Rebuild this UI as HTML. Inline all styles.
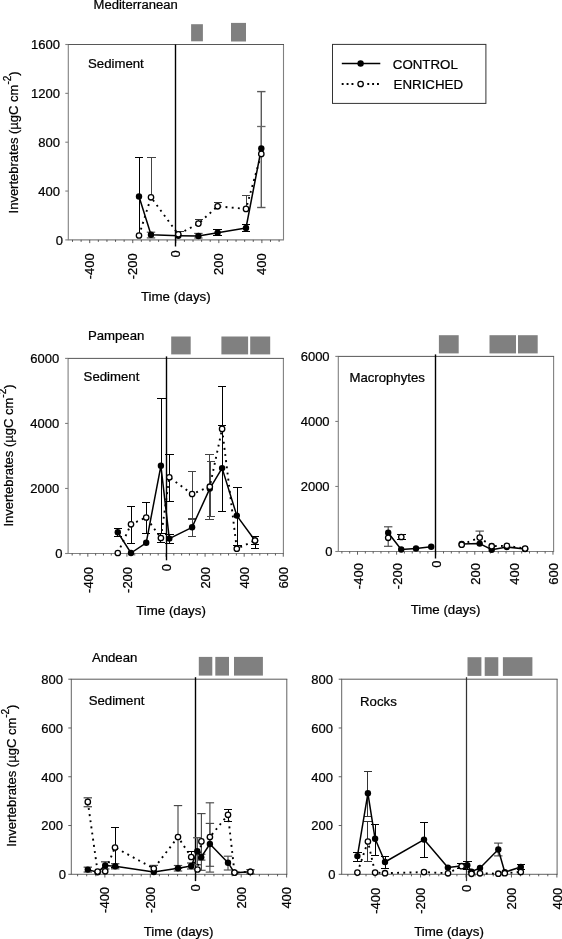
<!DOCTYPE html>
<html><head><meta charset="utf-8"><title>Invertebrates</title>
<style>
html,body{margin:0;padding:0;background:#fff;}
svg{display:block;filter:grayscale(1);}
text{font-family:"Liberation Sans",sans-serif;fill:#000;stroke:#000;stroke-width:0.24px;}
</style></head>
<body>
<svg width="562" height="939" viewBox="0 0 562 939">
<rect width="562" height="939" fill="#fff"/>
<rect x="191.1" y="24.2" width="11.8" height="17.1" fill="#808080"/>
<rect x="231" y="22.9" width="15" height="18.6" fill="#808080"/>
<line x1="68.3" y1="44.5" x2="68.3" y2="239.9" stroke="#808080" stroke-width="1.1" />
<line x1="283.5" y1="44.5" x2="283.5" y2="239.9" stroke="#808080" stroke-width="1.1" />
<line x1="67.8" y1="239.9" x2="284" y2="239.9" stroke="#808080" stroke-width="1.1" />
<line x1="67.8" y1="44.5" x2="284" y2="44.5" stroke="#444" stroke-width="0.9" />
<line x1="65.3" y1="239.9" x2="68.3" y2="239.9" stroke="#808080" stroke-width="1.1" />
<text x="63" y="244.75" font-size="13" text-anchor="end" >0</text>
<line x1="65.3" y1="191.05" x2="68.3" y2="191.05" stroke="#808080" stroke-width="1.1" />
<text x="60" y="195.9" font-size="13" text-anchor="end" >400</text>
<line x1="65.3" y1="142.2" x2="68.3" y2="142.2" stroke="#808080" stroke-width="1.1" />
<text x="60" y="147.05" font-size="13" text-anchor="end" >800</text>
<line x1="65.3" y1="93.35" x2="68.3" y2="93.35" stroke="#808080" stroke-width="1.1" />
<text x="60" y="98.2" font-size="13" text-anchor="end" >1200</text>
<line x1="65.3" y1="44.5" x2="68.3" y2="44.5" stroke="#808080" stroke-width="1.1" />
<text x="60" y="49.35" font-size="13" text-anchor="end" >1600</text>
<line x1="72.5" y1="239.9" x2="72.5" y2="241.9" stroke="#333" stroke-width="0.8" />
<line x1="81.11" y1="239.9" x2="81.11" y2="241.9" stroke="#333" stroke-width="0.8" />
<line x1="89.72" y1="239.9" x2="89.72" y2="243.1" stroke="#333" stroke-width="0.8" />
<line x1="98.33" y1="239.9" x2="98.33" y2="241.9" stroke="#333" stroke-width="0.8" />
<line x1="106.94" y1="239.9" x2="106.94" y2="241.9" stroke="#333" stroke-width="0.8" />
<line x1="115.54" y1="239.9" x2="115.54" y2="241.9" stroke="#333" stroke-width="0.8" />
<line x1="124.15" y1="239.9" x2="124.15" y2="241.9" stroke="#333" stroke-width="0.8" />
<line x1="132.76" y1="239.9" x2="132.76" y2="243.1" stroke="#333" stroke-width="0.8" />
<line x1="141.37" y1="239.9" x2="141.37" y2="241.9" stroke="#333" stroke-width="0.8" />
<line x1="149.98" y1="239.9" x2="149.98" y2="241.9" stroke="#333" stroke-width="0.8" />
<line x1="158.58" y1="239.9" x2="158.58" y2="241.9" stroke="#333" stroke-width="0.8" />
<line x1="167.19" y1="239.9" x2="167.19" y2="241.9" stroke="#333" stroke-width="0.8" />
<line x1="175.8" y1="239.9" x2="175.8" y2="243.1" stroke="#333" stroke-width="0.8" />
<line x1="184.41" y1="239.9" x2="184.41" y2="241.9" stroke="#333" stroke-width="0.8" />
<line x1="193.02" y1="239.9" x2="193.02" y2="241.9" stroke="#333" stroke-width="0.8" />
<line x1="201.62" y1="239.9" x2="201.62" y2="241.9" stroke="#333" stroke-width="0.8" />
<line x1="210.23" y1="239.9" x2="210.23" y2="241.9" stroke="#333" stroke-width="0.8" />
<line x1="218.84" y1="239.9" x2="218.84" y2="243.1" stroke="#333" stroke-width="0.8" />
<line x1="227.45" y1="239.9" x2="227.45" y2="241.9" stroke="#333" stroke-width="0.8" />
<line x1="236.06" y1="239.9" x2="236.06" y2="241.9" stroke="#333" stroke-width="0.8" />
<line x1="244.66" y1="239.9" x2="244.66" y2="241.9" stroke="#333" stroke-width="0.8" />
<line x1="253.27" y1="239.9" x2="253.27" y2="241.9" stroke="#333" stroke-width="0.8" />
<line x1="261.88" y1="239.9" x2="261.88" y2="243.1" stroke="#333" stroke-width="0.8" />
<line x1="270.49" y1="239.9" x2="270.49" y2="241.9" stroke="#333" stroke-width="0.8" />
<line x1="279.1" y1="239.9" x2="279.1" y2="241.9" stroke="#333" stroke-width="0.8" />
<text x="94.32" y="253.3" font-size="13" text-anchor="end" transform="rotate(-90 94.32 253.3)" >-400</text>
<text x="137.36" y="253.3" font-size="13" text-anchor="end" transform="rotate(-90 137.36 253.3)" >-200</text>
<text x="180.4" y="250.3" font-size="13" text-anchor="end" transform="rotate(-90 180.4 250.3)" >0</text>
<text x="223.44" y="253.3" font-size="13" text-anchor="end" transform="rotate(-90 223.44 253.3)" >200</text>
<text x="266.48" y="253.3" font-size="13" text-anchor="end" transform="rotate(-90 266.48 253.3)" >400</text>
<line x1="175.5" y1="44.5" x2="175.5" y2="246.5" stroke="#000" stroke-width="1.4" />
<text x="93.6" y="9.3" font-size="13.05" text-anchor="start" >Mediterranean</text>
<text x="88" y="67.9" font-size="13.2" text-anchor="start" >Sediment</text>
<text x="175.8" y="300.8" font-size="13.3" text-anchor="middle" >Time (days)</text>
<text x="17.8" y="142.4" font-size="13" text-anchor="middle" transform="rotate(-90 17.8 142.4)" >Invertebrates (µgC cm<tspan font-size="10" dy="-6.9">-2</tspan><tspan dy="6.9">)</tspan></text>
<line x1="139.2" y1="157.5" x2="139.2" y2="235.5" stroke="#000" stroke-width="1.0" shape-rendering="crispEdges"/>
<line x1="135" y1="157.5" x2="143.4" y2="157.5" stroke="#000" stroke-width="1.0" shape-rendering="crispEdges"/>
<line x1="151" y1="232.2" x2="151" y2="237.9" stroke="#4a4a4a" stroke-width="1.15" />
<line x1="146.8" y1="232.2" x2="155.2" y2="232.2" stroke="#4a4a4a" stroke-width="1.15" />
<line x1="146.8" y1="237.9" x2="155.2" y2="237.9" stroke="#4a4a4a" stroke-width="1.15" />
<line x1="198.4" y1="233.4" x2="198.4" y2="238" stroke="#4a4a4a" stroke-width="1.15" />
<line x1="194.2" y1="233.4" x2="202.6" y2="233.4" stroke="#4a4a4a" stroke-width="1.15" />
<line x1="194.2" y1="238" x2="202.6" y2="238" stroke="#4a4a4a" stroke-width="1.15" />
<line x1="217.6" y1="229.9" x2="217.6" y2="235.8" stroke="#000" stroke-width="1.0" shape-rendering="crispEdges"/>
<line x1="213.4" y1="229.9" x2="221.8" y2="229.9" stroke="#000" stroke-width="1.0" shape-rendering="crispEdges"/>
<line x1="213.4" y1="235.8" x2="221.8" y2="235.8" stroke="#000" stroke-width="1.0" shape-rendering="crispEdges"/>
<line x1="246" y1="224.8" x2="246" y2="231.9" stroke="#000" stroke-width="1.0" shape-rendering="crispEdges"/>
<line x1="241.8" y1="224.8" x2="250.2" y2="224.8" stroke="#000" stroke-width="1.0" shape-rendering="crispEdges"/>
<line x1="241.8" y1="231.9" x2="250.2" y2="231.9" stroke="#000" stroke-width="1.0" shape-rendering="crispEdges"/>
<line x1="261.3" y1="91.6" x2="261.3" y2="207.5" stroke="#5a5a5a" stroke-width="1.4" />
<line x1="257.1" y1="91.6" x2="265.5" y2="91.6" stroke="#5a5a5a" stroke-width="1.4" />
<line x1="257.1" y1="207.5" x2="265.5" y2="207.5" stroke="#5a5a5a" stroke-width="1.4" />
<line x1="151.4" y1="157.5" x2="151.4" y2="197.3" stroke="#444" stroke-width="1.0" shape-rendering="crispEdges"/>
<line x1="147.2" y1="157.5" x2="155.6" y2="157.5" stroke="#444" stroke-width="1.0" shape-rendering="crispEdges"/>
<line x1="180.2" y1="231.8" x2="180.2" y2="234.3" stroke="#333" stroke-width="1.0" shape-rendering="crispEdges"/>
<line x1="176" y1="231.8" x2="184.4" y2="231.8" stroke="#333" stroke-width="1.0" shape-rendering="crispEdges"/>
<line x1="198.9" y1="219" x2="198.9" y2="223.6" stroke="#333" stroke-width="1.0" shape-rendering="crispEdges"/>
<line x1="194.7" y1="219" x2="203.1" y2="219" stroke="#333" stroke-width="1.0" shape-rendering="crispEdges"/>
<line x1="218" y1="202.7" x2="218" y2="206.3" stroke="#333" stroke-width="1.0" shape-rendering="crispEdges"/>
<line x1="213.8" y1="202.7" x2="222.2" y2="202.7" stroke="#333" stroke-width="1.0" shape-rendering="crispEdges"/>
<line x1="246" y1="195.5" x2="246" y2="208.9" stroke="#444" stroke-width="1.0" shape-rendering="crispEdges"/>
<line x1="241.8" y1="195.5" x2="250.2" y2="195.5" stroke="#444" stroke-width="1.0" shape-rendering="crispEdges"/>
<line x1="261.3" y1="126.5" x2="261.3" y2="153.9" stroke="#666" stroke-width="1.3" />
<line x1="257.1" y1="126.5" x2="265.5" y2="126.5" stroke="#666" stroke-width="1.3" />
<polyline points="139,196.5 151,234.7 178.3,235.7 198.4,236 217.6,232.7 246,228 261.3,148.5" fill="none" stroke="#000" stroke-width="1.5" stroke-linejoin="round"/>
<circle cx="139" cy="196.5" r="3.2" fill="#000"/>
<circle cx="151" cy="234.7" r="3.2" fill="#000"/>
<circle cx="178.3" cy="235.7" r="3.2" fill="#000"/>
<circle cx="198.4" cy="236" r="3.2" fill="#000"/>
<circle cx="217.6" cy="232.7" r="3.2" fill="#000"/>
<circle cx="246" cy="228" r="3.2" fill="#000"/>
<circle cx="261.3" cy="148.5" r="3.2" fill="#000"/>
<polyline points="139,235.5 151,197.3 178.3,234.3 198.4,223.6 217.6,206.3 246,208.9 261.3,153.9" fill="none" stroke="#000" stroke-width="1.9" stroke-linejoin="round" stroke-dasharray="1.9 4.3"/>
<circle cx="139" cy="235.5" r="2.7" fill="#fff" stroke="#000" stroke-width="1.3"/>
<circle cx="151" cy="197.3" r="2.7" fill="#fff" stroke="#000" stroke-width="1.3"/>
<circle cx="178.3" cy="234.3" r="2.7" fill="#fff" stroke="#000" stroke-width="1.3"/>
<circle cx="198.4" cy="223.6" r="2.7" fill="#fff" stroke="#000" stroke-width="1.3"/>
<circle cx="217.6" cy="206.3" r="2.7" fill="#fff" stroke="#000" stroke-width="1.3"/>
<circle cx="246" cy="208.9" r="2.7" fill="#fff" stroke="#000" stroke-width="1.3"/>
<circle cx="261.3" cy="153.9" r="2.7" fill="#fff" stroke="#000" stroke-width="1.3"/>
<rect x="171.2" y="336.5" width="19.5" height="17.9" fill="#808080"/>
<rect x="221.4" y="336.5" width="26.7" height="17.9" fill="#808080"/>
<rect x="250.2" y="336.5" width="20" height="17.9" fill="#808080"/>
<line x1="68.1" y1="358.4" x2="68.1" y2="553.5" stroke="#808080" stroke-width="1.1" />
<line x1="283.4" y1="358.4" x2="283.4" y2="553.5" stroke="#808080" stroke-width="1.1" />
<line x1="67.6" y1="553.5" x2="283.9" y2="553.5" stroke="#808080" stroke-width="1.1" />
<line x1="67.6" y1="358.4" x2="283.9" y2="358.4" stroke="#444" stroke-width="0.9" />
<line x1="65.1" y1="553.5" x2="68.1" y2="553.5" stroke="#808080" stroke-width="1.1" />
<text x="62.5" y="558.35" font-size="13" text-anchor="end" >0</text>
<line x1="65.1" y1="488.47" x2="68.1" y2="488.47" stroke="#808080" stroke-width="1.1" />
<text x="59.2" y="493.32" font-size="13" text-anchor="end" >2000</text>
<line x1="65.1" y1="423.43" x2="68.1" y2="423.43" stroke="#808080" stroke-width="1.1" />
<text x="59.2" y="428.28" font-size="13" text-anchor="end" >4000</text>
<line x1="65.1" y1="358.4" x2="68.1" y2="358.4" stroke="#808080" stroke-width="1.1" />
<text x="59.2" y="363.25" font-size="13" text-anchor="end" >6000</text>
<line x1="72.18" y1="553.5" x2="72.18" y2="555.5" stroke="#333" stroke-width="0.8" />
<line x1="80" y1="553.5" x2="80" y2="555.5" stroke="#333" stroke-width="0.8" />
<line x1="87.82" y1="553.5" x2="87.82" y2="556.7" stroke="#333" stroke-width="0.8" />
<line x1="95.64" y1="553.5" x2="95.64" y2="555.5" stroke="#333" stroke-width="0.8" />
<line x1="103.46" y1="553.5" x2="103.46" y2="555.5" stroke="#333" stroke-width="0.8" />
<line x1="111.27" y1="553.5" x2="111.27" y2="555.5" stroke="#333" stroke-width="0.8" />
<line x1="119.09" y1="553.5" x2="119.09" y2="555.5" stroke="#333" stroke-width="0.8" />
<line x1="126.91" y1="553.5" x2="126.91" y2="556.7" stroke="#333" stroke-width="0.8" />
<line x1="134.73" y1="553.5" x2="134.73" y2="555.5" stroke="#333" stroke-width="0.8" />
<line x1="142.55" y1="553.5" x2="142.55" y2="555.5" stroke="#333" stroke-width="0.8" />
<line x1="150.36" y1="553.5" x2="150.36" y2="555.5" stroke="#333" stroke-width="0.8" />
<line x1="158.18" y1="553.5" x2="158.18" y2="555.5" stroke="#333" stroke-width="0.8" />
<line x1="166" y1="553.5" x2="166" y2="556.7" stroke="#333" stroke-width="0.8" />
<line x1="173.82" y1="553.5" x2="173.82" y2="555.5" stroke="#333" stroke-width="0.8" />
<line x1="181.64" y1="553.5" x2="181.64" y2="555.5" stroke="#333" stroke-width="0.8" />
<line x1="189.45" y1="553.5" x2="189.45" y2="555.5" stroke="#333" stroke-width="0.8" />
<line x1="197.27" y1="553.5" x2="197.27" y2="555.5" stroke="#333" stroke-width="0.8" />
<line x1="205.09" y1="553.5" x2="205.09" y2="556.7" stroke="#333" stroke-width="0.8" />
<line x1="212.91" y1="553.5" x2="212.91" y2="555.5" stroke="#333" stroke-width="0.8" />
<line x1="220.73" y1="553.5" x2="220.73" y2="555.5" stroke="#333" stroke-width="0.8" />
<line x1="228.54" y1="553.5" x2="228.54" y2="555.5" stroke="#333" stroke-width="0.8" />
<line x1="236.36" y1="553.5" x2="236.36" y2="555.5" stroke="#333" stroke-width="0.8" />
<line x1="244.18" y1="553.5" x2="244.18" y2="556.7" stroke="#333" stroke-width="0.8" />
<line x1="252" y1="553.5" x2="252" y2="555.5" stroke="#333" stroke-width="0.8" />
<line x1="259.82" y1="553.5" x2="259.82" y2="555.5" stroke="#333" stroke-width="0.8" />
<line x1="267.63" y1="553.5" x2="267.63" y2="555.5" stroke="#333" stroke-width="0.8" />
<line x1="275.45" y1="553.5" x2="275.45" y2="555.5" stroke="#333" stroke-width="0.8" />
<line x1="283.27" y1="553.5" x2="283.27" y2="556.7" stroke="#333" stroke-width="0.8" />
<text x="92.92" y="566.9" font-size="13" text-anchor="end" transform="rotate(-90 92.92 566.9)" >-400</text>
<text x="132.01" y="566.9" font-size="13" text-anchor="end" transform="rotate(-90 132.01 566.9)" >-200</text>
<text x="171.1" y="563.9" font-size="13" text-anchor="end" transform="rotate(-90 171.1 563.9)" >0</text>
<text x="210.19" y="566.9" font-size="13" text-anchor="end" transform="rotate(-90 210.19 566.9)" >200</text>
<text x="249.28" y="566.9" font-size="13" text-anchor="end" transform="rotate(-90 249.28 566.9)" >400</text>
<text x="288.37" y="566.9" font-size="13" text-anchor="end" transform="rotate(-90 288.37 566.9)" >600</text>
<line x1="166.5" y1="356.4" x2="166.5" y2="560.3" stroke="#000" stroke-width="1.4" />
<text x="87.9" y="340.1" font-size="13.2" text-anchor="start" >Pampean</text>
<text x="83.6" y="380.8" font-size="13.2" text-anchor="start" >Sediment</text>
<text x="171" y="615" font-size="13.3" text-anchor="middle" >Time (days)</text>
<text x="12.5" y="455.5" font-size="13" text-anchor="middle" transform="rotate(-90 12.5 455.5)" >Invertebrates (µgC cm<tspan font-size="10" dy="-6.9">-2</tspan><tspan dy="6.9">)</tspan></text>
<line x1="117.8" y1="528.5" x2="117.8" y2="536.1" stroke="#000" stroke-width="1.0" shape-rendering="crispEdges"/>
<line x1="113.6" y1="528.5" x2="122" y2="528.5" stroke="#000" stroke-width="1.0" shape-rendering="crispEdges"/>
<line x1="113.6" y1="536.1" x2="122" y2="536.1" stroke="#000" stroke-width="1.0" shape-rendering="crispEdges"/>
<line x1="161.5" y1="398.8" x2="161.5" y2="533" stroke="#000" stroke-width="1.0" shape-rendering="crispEdges"/>
<line x1="157.3" y1="398.8" x2="165.7" y2="398.8" stroke="#000" stroke-width="1.0" shape-rendering="crispEdges"/>
<line x1="157.3" y1="533" x2="165.7" y2="533" stroke="#000" stroke-width="1.0" shape-rendering="crispEdges"/>
<line x1="169.3" y1="534.2" x2="169.3" y2="543.8" stroke="#000" stroke-width="1.0" shape-rendering="crispEdges"/>
<line x1="165.1" y1="534.2" x2="173.5" y2="534.2" stroke="#000" stroke-width="1.0" shape-rendering="crispEdges"/>
<line x1="165.1" y1="543.8" x2="173.5" y2="543.8" stroke="#000" stroke-width="1.0" shape-rendering="crispEdges"/>
<line x1="192.1" y1="518" x2="192.1" y2="536" stroke="#444" stroke-width="1.0" shape-rendering="crispEdges"/>
<line x1="187.9" y1="518" x2="196.3" y2="518" stroke="#444" stroke-width="1.0" shape-rendering="crispEdges"/>
<line x1="187.9" y1="536" x2="196.3" y2="536" stroke="#444" stroke-width="1.0" shape-rendering="crispEdges"/>
<line x1="210.9" y1="461.3" x2="210.9" y2="516.1" stroke="#444" stroke-width="1.0" shape-rendering="crispEdges"/>
<line x1="206.7" y1="461.3" x2="215.1" y2="461.3" stroke="#444" stroke-width="1.0" shape-rendering="crispEdges"/>
<line x1="206.7" y1="516.1" x2="215.1" y2="516.1" stroke="#444" stroke-width="1.0" shape-rendering="crispEdges"/>
<line x1="222.1" y1="425.6" x2="222.1" y2="511.5" stroke="#000" stroke-width="1.0" shape-rendering="crispEdges"/>
<line x1="217.9" y1="425.6" x2="226.3" y2="425.6" stroke="#000" stroke-width="1.0" shape-rendering="crispEdges"/>
<line x1="217.9" y1="511.5" x2="226.3" y2="511.5" stroke="#000" stroke-width="1.0" shape-rendering="crispEdges"/>
<line x1="237.4" y1="487.6" x2="237.4" y2="545.4" stroke="#000" stroke-width="1.0" shape-rendering="crispEdges"/>
<line x1="233.2" y1="487.6" x2="241.6" y2="487.6" stroke="#000" stroke-width="1.0" shape-rendering="crispEdges"/>
<line x1="233.2" y1="545.4" x2="241.6" y2="545.4" stroke="#000" stroke-width="1.0" shape-rendering="crispEdges"/>
<line x1="255" y1="536.6" x2="255" y2="544.8" stroke="#000" stroke-width="1.0" shape-rendering="crispEdges"/>
<line x1="250.8" y1="536.6" x2="259.2" y2="536.6" stroke="#000" stroke-width="1.0" shape-rendering="crispEdges"/>
<line x1="250.8" y1="544.8" x2="259.2" y2="544.8" stroke="#000" stroke-width="1.0" shape-rendering="crispEdges"/>
<line x1="131" y1="506.4" x2="131" y2="543.4" stroke="#000" stroke-width="1.0" shape-rendering="crispEdges"/>
<line x1="126.8" y1="506.4" x2="135.2" y2="506.4" stroke="#000" stroke-width="1.0" shape-rendering="crispEdges"/>
<line x1="126.8" y1="543.4" x2="135.2" y2="543.4" stroke="#000" stroke-width="1.0" shape-rendering="crispEdges"/>
<line x1="146.2" y1="502.6" x2="146.2" y2="533.3" stroke="#000" stroke-width="1.0" shape-rendering="crispEdges"/>
<line x1="142" y1="502.6" x2="150.4" y2="502.6" stroke="#000" stroke-width="1.0" shape-rendering="crispEdges"/>
<line x1="142" y1="533.3" x2="150.4" y2="533.3" stroke="#000" stroke-width="1.0" shape-rendering="crispEdges"/>
<line x1="160.9" y1="533.3" x2="160.9" y2="542.8" stroke="#000" stroke-width="1.0" shape-rendering="crispEdges"/>
<line x1="156.7" y1="533.3" x2="165.1" y2="533.3" stroke="#000" stroke-width="1.0" shape-rendering="crispEdges"/>
<line x1="156.7" y1="542.8" x2="165.1" y2="542.8" stroke="#000" stroke-width="1.0" shape-rendering="crispEdges"/>
<line x1="169.3" y1="454.3" x2="169.3" y2="501.1" stroke="#000" stroke-width="1.0" shape-rendering="crispEdges"/>
<line x1="165.1" y1="454.3" x2="173.5" y2="454.3" stroke="#000" stroke-width="1.0" shape-rendering="crispEdges"/>
<line x1="165.1" y1="501.1" x2="173.5" y2="501.1" stroke="#000" stroke-width="1.0" shape-rendering="crispEdges"/>
<line x1="192.1" y1="471.3" x2="192.1" y2="519.2" stroke="#444" stroke-width="1.0" shape-rendering="crispEdges"/>
<line x1="187.9" y1="471.3" x2="196.3" y2="471.3" stroke="#444" stroke-width="1.0" shape-rendering="crispEdges"/>
<line x1="187.9" y1="519.2" x2="196.3" y2="519.2" stroke="#444" stroke-width="1.0" shape-rendering="crispEdges"/>
<line x1="209.6" y1="454.4" x2="209.6" y2="519.6" stroke="#444" stroke-width="1.0" shape-rendering="crispEdges"/>
<line x1="205.4" y1="454.4" x2="213.8" y2="454.4" stroke="#444" stroke-width="1.0" shape-rendering="crispEdges"/>
<line x1="205.4" y1="519.6" x2="213.8" y2="519.6" stroke="#444" stroke-width="1.0" shape-rendering="crispEdges"/>
<line x1="222.1" y1="386.8" x2="222.1" y2="428.9" stroke="#000" stroke-width="1.0" shape-rendering="crispEdges"/>
<line x1="217.9" y1="386.8" x2="226.3" y2="386.8" stroke="#000" stroke-width="1.0" shape-rendering="crispEdges"/>
<line x1="255" y1="540.5" x2="255" y2="548.7" stroke="#000" stroke-width="1.0" shape-rendering="crispEdges"/>
<line x1="250.8" y1="548.7" x2="259.2" y2="548.7" stroke="#000" stroke-width="1.0" shape-rendering="crispEdges"/>
<polyline points="117.8,532.3 131,553 146.2,542.8 160.9,465.8 169.3,538.6 192.1,527.3 209.8,488.6 222.1,468.1 236.8,515.6 255,540.5" fill="none" stroke="#000" stroke-width="1.5" stroke-linejoin="round"/>
<circle cx="117.8" cy="532.3" r="3.2" fill="#000"/>
<circle cx="131" cy="553" r="3.2" fill="#000"/>
<circle cx="146.2" cy="542.8" r="3.2" fill="#000"/>
<circle cx="160.9" cy="465.8" r="3.2" fill="#000"/>
<circle cx="169.3" cy="538.6" r="3.2" fill="#000"/>
<circle cx="192.1" cy="527.3" r="3.2" fill="#000"/>
<circle cx="209.8" cy="488.6" r="3.2" fill="#000"/>
<circle cx="222.1" cy="468.1" r="3.2" fill="#000"/>
<circle cx="236.8" cy="515.6" r="3.2" fill="#000"/>
<circle cx="255" cy="540.5" r="3.2" fill="#000"/>
<polyline points="117.8,553 131,524.3 146.2,517.5 160.9,538 169.3,477.3 192.1,494 209.8,486.7 222.1,428.9 236.8,548.7 255,540.5" fill="none" stroke="#000" stroke-width="1.9" stroke-linejoin="round" stroke-dasharray="1.9 4.3"/>
<circle cx="117.8" cy="553" r="2.7" fill="#fff" stroke="#000" stroke-width="1.3"/>
<circle cx="131" cy="524.3" r="2.7" fill="#fff" stroke="#000" stroke-width="1.3"/>
<circle cx="146.2" cy="517.5" r="2.7" fill="#fff" stroke="#000" stroke-width="1.3"/>
<circle cx="160.9" cy="538" r="2.7" fill="#fff" stroke="#000" stroke-width="1.3"/>
<circle cx="169.3" cy="477.3" r="2.7" fill="#fff" stroke="#000" stroke-width="1.3"/>
<circle cx="192.1" cy="494" r="2.7" fill="#fff" stroke="#000" stroke-width="1.3"/>
<circle cx="209.8" cy="486.7" r="2.7" fill="#fff" stroke="#000" stroke-width="1.3"/>
<circle cx="222.1" cy="428.9" r="2.7" fill="#fff" stroke="#000" stroke-width="1.3"/>
<circle cx="236.8" cy="548.7" r="2.7" fill="#fff" stroke="#000" stroke-width="1.3"/>
<circle cx="255" cy="540.5" r="2.7" fill="#fff" stroke="#000" stroke-width="1.3"/>
<rect x="438.9" y="335.2" width="19.8" height="18.2" fill="#808080"/>
<rect x="489.5" y="335.2" width="26.5" height="18.2" fill="#808080"/>
<rect x="518" y="335.2" width="19.7" height="18.2" fill="#808080"/>
<line x1="338.3" y1="356.4" x2="338.3" y2="551.5" stroke="#808080" stroke-width="1.1" />
<line x1="553.6" y1="356.4" x2="553.6" y2="551.5" stroke="#808080" stroke-width="1.1" />
<line x1="337.8" y1="551.5" x2="554.1" y2="551.5" stroke="#808080" stroke-width="1.1" />
<line x1="337.8" y1="356.4" x2="554.1" y2="356.4" stroke="#444" stroke-width="0.9" />
<line x1="335.3" y1="551.5" x2="338.3" y2="551.5" stroke="#808080" stroke-width="1.1" />
<text x="332.6" y="556.35" font-size="13" text-anchor="end" >0</text>
<line x1="335.3" y1="486.47" x2="338.3" y2="486.47" stroke="#808080" stroke-width="1.1" />
<text x="329.6" y="491.32" font-size="13" text-anchor="end" >2000</text>
<line x1="335.3" y1="421.43" x2="338.3" y2="421.43" stroke="#808080" stroke-width="1.1" />
<text x="329.6" y="426.28" font-size="13" text-anchor="end" >4000</text>
<line x1="335.3" y1="356.4" x2="338.3" y2="356.4" stroke="#808080" stroke-width="1.1" />
<text x="329.6" y="361.25" font-size="13" text-anchor="end" >6000</text>
<line x1="341.88" y1="551.5" x2="341.88" y2="553.5" stroke="#333" stroke-width="0.8" />
<line x1="349.7" y1="551.5" x2="349.7" y2="553.5" stroke="#333" stroke-width="0.8" />
<line x1="357.52" y1="551.5" x2="357.52" y2="554.7" stroke="#333" stroke-width="0.8" />
<line x1="365.34" y1="551.5" x2="365.34" y2="553.5" stroke="#333" stroke-width="0.8" />
<line x1="373.16" y1="551.5" x2="373.16" y2="553.5" stroke="#333" stroke-width="0.8" />
<line x1="380.97" y1="551.5" x2="380.97" y2="553.5" stroke="#333" stroke-width="0.8" />
<line x1="388.79" y1="551.5" x2="388.79" y2="553.5" stroke="#333" stroke-width="0.8" />
<line x1="396.61" y1="551.5" x2="396.61" y2="554.7" stroke="#333" stroke-width="0.8" />
<line x1="404.43" y1="551.5" x2="404.43" y2="553.5" stroke="#333" stroke-width="0.8" />
<line x1="412.25" y1="551.5" x2="412.25" y2="553.5" stroke="#333" stroke-width="0.8" />
<line x1="420.06" y1="551.5" x2="420.06" y2="553.5" stroke="#333" stroke-width="0.8" />
<line x1="427.88" y1="551.5" x2="427.88" y2="553.5" stroke="#333" stroke-width="0.8" />
<line x1="435.7" y1="551.5" x2="435.7" y2="554.7" stroke="#333" stroke-width="0.8" />
<line x1="443.52" y1="551.5" x2="443.52" y2="553.5" stroke="#333" stroke-width="0.8" />
<line x1="451.34" y1="551.5" x2="451.34" y2="553.5" stroke="#333" stroke-width="0.8" />
<line x1="459.15" y1="551.5" x2="459.15" y2="553.5" stroke="#333" stroke-width="0.8" />
<line x1="466.97" y1="551.5" x2="466.97" y2="553.5" stroke="#333" stroke-width="0.8" />
<line x1="474.79" y1="551.5" x2="474.79" y2="554.7" stroke="#333" stroke-width="0.8" />
<line x1="482.61" y1="551.5" x2="482.61" y2="553.5" stroke="#333" stroke-width="0.8" />
<line x1="490.43" y1="551.5" x2="490.43" y2="553.5" stroke="#333" stroke-width="0.8" />
<line x1="498.24" y1="551.5" x2="498.24" y2="553.5" stroke="#333" stroke-width="0.8" />
<line x1="506.06" y1="551.5" x2="506.06" y2="553.5" stroke="#333" stroke-width="0.8" />
<line x1="513.88" y1="551.5" x2="513.88" y2="554.7" stroke="#333" stroke-width="0.8" />
<line x1="521.7" y1="551.5" x2="521.7" y2="553.5" stroke="#333" stroke-width="0.8" />
<line x1="529.52" y1="551.5" x2="529.52" y2="553.5" stroke="#333" stroke-width="0.8" />
<line x1="537.33" y1="551.5" x2="537.33" y2="553.5" stroke="#333" stroke-width="0.8" />
<line x1="545.15" y1="551.5" x2="545.15" y2="553.5" stroke="#333" stroke-width="0.8" />
<line x1="552.97" y1="551.5" x2="552.97" y2="554.7" stroke="#333" stroke-width="0.8" />
<text x="362.62" y="563.1" font-size="13" text-anchor="end" transform="rotate(-90 362.62 563.1)" >-400</text>
<text x="401.71" y="563.1" font-size="13" text-anchor="end" transform="rotate(-90 401.71 563.1)" >-200</text>
<text x="440.8" y="560.5" font-size="13" text-anchor="end" transform="rotate(-90 440.8 560.5)" >0</text>
<text x="479.89" y="563.1" font-size="13" text-anchor="end" transform="rotate(-90 479.89 563.1)" >200</text>
<text x="518.98" y="563.1" font-size="13" text-anchor="end" transform="rotate(-90 518.98 563.1)" >400</text>
<text x="558.07" y="563.1" font-size="13" text-anchor="end" transform="rotate(-90 558.07 563.1)" >600</text>
<line x1="435.5" y1="354.4" x2="435.5" y2="558.5" stroke="#000" stroke-width="1.4" />
<text x="349.4" y="381.9" font-size="13.2" text-anchor="start" >Macrophytes</text>
<text x="445.5" y="613.5" font-size="13.3" text-anchor="middle" >Time (days)</text>
<line x1="388.2" y1="526.8" x2="388.2" y2="546.3" stroke="#4a4a4a" stroke-width="1.15" />
<line x1="384" y1="526.8" x2="392.4" y2="526.8" stroke="#4a4a4a" stroke-width="1.15" />
<line x1="384" y1="546.3" x2="392.4" y2="546.3" stroke="#4a4a4a" stroke-width="1.15" />
<line x1="401.3" y1="534.9" x2="401.3" y2="539.5" stroke="#000" stroke-width="1.0" shape-rendering="crispEdges"/>
<line x1="397.1" y1="534.9" x2="405.5" y2="534.9" stroke="#000" stroke-width="1.0" shape-rendering="crispEdges"/>
<line x1="397.1" y1="539.5" x2="405.5" y2="539.5" stroke="#000" stroke-width="1.0" shape-rendering="crispEdges"/>
<line x1="479.7" y1="531.1" x2="479.7" y2="537.6" stroke="#555" stroke-width="1.2" />
<line x1="475.5" y1="531.1" x2="483.9" y2="531.1" stroke="#555" stroke-width="1.2" />
<polyline points="388.2,532.8 401.2,549.5 416,548.5 431.2,546.7" fill="none" stroke="#000" stroke-width="1.5" stroke-linejoin="round"/>
<polyline points="461.7,544 479.7,543.6 491.7,549.7 506.9,547 525.1,549" fill="none" stroke="#000" stroke-width="1.5" stroke-linejoin="round"/>
<circle cx="388.2" cy="532.8" r="3.2" fill="#000"/>
<circle cx="401.2" cy="549.5" r="3.2" fill="#000"/>
<circle cx="416" cy="548.5" r="3.2" fill="#000"/>
<circle cx="431.2" cy="546.7" r="3.2" fill="#000"/>
<circle cx="461.7" cy="544" r="3.2" fill="#000"/>
<circle cx="479.7" cy="543.6" r="3.2" fill="#000"/>
<circle cx="491.7" cy="549.7" r="3.2" fill="#000"/>
<circle cx="506.9" cy="547" r="3.2" fill="#000"/>
<circle cx="525.1" cy="549" r="3.2" fill="#000"/>
<polyline points="461.7,544.7 479.7,537.6 491.7,546.2 506.9,545.8 525.1,548.6" fill="none" stroke="#000" stroke-width="1.9" stroke-linejoin="round" stroke-dasharray="1.9 4.3"/>
<circle cx="388.2" cy="537.8" r="2.7" fill="#fff" stroke="#000" stroke-width="1.3"/>
<circle cx="401.3" cy="537" r="2.7" fill="#fff" stroke="#000" stroke-width="1.3"/>
<circle cx="461.7" cy="544.7" r="2.7" fill="#fff" stroke="#000" stroke-width="1.3"/>
<circle cx="479.7" cy="537.6" r="2.7" fill="#fff" stroke="#000" stroke-width="1.3"/>
<circle cx="491.7" cy="546.2" r="2.7" fill="#fff" stroke="#000" stroke-width="1.3"/>
<circle cx="506.9" cy="545.8" r="2.7" fill="#fff" stroke="#000" stroke-width="1.3"/>
<circle cx="525.1" cy="548.6" r="2.7" fill="#fff" stroke="#000" stroke-width="1.3"/>
<rect x="198.8" y="656.9" width="13.5" height="18.7" fill="#808080"/>
<rect x="215.3" y="656.9" width="13.7" height="18.7" fill="#808080"/>
<rect x="234" y="656.9" width="28.9" height="18.7" fill="#808080"/>
<line x1="71.3" y1="679.2" x2="71.3" y2="874.3" stroke="#5a5a5a" stroke-width="0.95" />
<line x1="286.8" y1="679.2" x2="286.8" y2="874.3" stroke="#5a5a5a" stroke-width="0.95" />
<line x1="70.8" y1="874.3" x2="287.3" y2="874.3" stroke="#5a5a5a" stroke-width="0.95" />
<line x1="70.8" y1="679.2" x2="287.3" y2="679.2" stroke="#444" stroke-width="0.9" />
<line x1="68.3" y1="874.3" x2="71.3" y2="874.3" stroke="#5a5a5a" stroke-width="0.95" />
<text x="65.9" y="879.15" font-size="13" text-anchor="end" >0</text>
<line x1="68.3" y1="825.52" x2="71.3" y2="825.52" stroke="#5a5a5a" stroke-width="0.95" />
<text x="62.9" y="830.38" font-size="13" text-anchor="end" >200</text>
<line x1="68.3" y1="776.75" x2="71.3" y2="776.75" stroke="#5a5a5a" stroke-width="0.95" />
<text x="62.9" y="781.6" font-size="13" text-anchor="end" >400</text>
<line x1="68.3" y1="727.98" x2="71.3" y2="727.98" stroke="#5a5a5a" stroke-width="0.95" />
<text x="62.9" y="732.83" font-size="13" text-anchor="end" >600</text>
<line x1="68.3" y1="679.2" x2="71.3" y2="679.2" stroke="#5a5a5a" stroke-width="0.95" />
<text x="62.9" y="684.05" font-size="13" text-anchor="end" >800</text>
<line x1="77.61" y1="874.3" x2="77.61" y2="876.3" stroke="#333" stroke-width="0.8" />
<line x1="86.69" y1="874.3" x2="86.69" y2="876.3" stroke="#333" stroke-width="0.8" />
<line x1="95.78" y1="874.3" x2="95.78" y2="876.3" stroke="#333" stroke-width="0.8" />
<line x1="104.87" y1="874.3" x2="104.87" y2="877.5" stroke="#333" stroke-width="0.8" />
<line x1="113.96" y1="874.3" x2="113.96" y2="876.3" stroke="#333" stroke-width="0.8" />
<line x1="123.05" y1="874.3" x2="123.05" y2="876.3" stroke="#333" stroke-width="0.8" />
<line x1="132.13" y1="874.3" x2="132.13" y2="876.3" stroke="#333" stroke-width="0.8" />
<line x1="141.22" y1="874.3" x2="141.22" y2="876.3" stroke="#333" stroke-width="0.8" />
<line x1="150.31" y1="874.3" x2="150.31" y2="877.5" stroke="#333" stroke-width="0.8" />
<line x1="159.4" y1="874.3" x2="159.4" y2="876.3" stroke="#333" stroke-width="0.8" />
<line x1="168.49" y1="874.3" x2="168.49" y2="876.3" stroke="#333" stroke-width="0.8" />
<line x1="177.57" y1="874.3" x2="177.57" y2="876.3" stroke="#333" stroke-width="0.8" />
<line x1="186.66" y1="874.3" x2="186.66" y2="876.3" stroke="#333" stroke-width="0.8" />
<line x1="195.75" y1="874.3" x2="195.75" y2="877.5" stroke="#333" stroke-width="0.8" />
<line x1="204.84" y1="874.3" x2="204.84" y2="876.3" stroke="#333" stroke-width="0.8" />
<line x1="213.93" y1="874.3" x2="213.93" y2="876.3" stroke="#333" stroke-width="0.8" />
<line x1="223.01" y1="874.3" x2="223.01" y2="876.3" stroke="#333" stroke-width="0.8" />
<line x1="232.1" y1="874.3" x2="232.1" y2="876.3" stroke="#333" stroke-width="0.8" />
<line x1="241.19" y1="874.3" x2="241.19" y2="877.5" stroke="#333" stroke-width="0.8" />
<line x1="250.28" y1="874.3" x2="250.28" y2="876.3" stroke="#333" stroke-width="0.8" />
<line x1="259.37" y1="874.3" x2="259.37" y2="876.3" stroke="#333" stroke-width="0.8" />
<line x1="268.45" y1="874.3" x2="268.45" y2="876.3" stroke="#333" stroke-width="0.8" />
<line x1="277.54" y1="874.3" x2="277.54" y2="876.3" stroke="#333" stroke-width="0.8" />
<line x1="286.63" y1="874.3" x2="286.63" y2="877.5" stroke="#333" stroke-width="0.8" />
<text x="109.47" y="886.9" font-size="13" text-anchor="end" transform="rotate(-90 109.47 886.9)" >-400</text>
<text x="154.91" y="886.9" font-size="13" text-anchor="end" transform="rotate(-90 154.91 886.9)" >-200</text>
<text x="200.35" y="884.2" font-size="13" text-anchor="end" transform="rotate(-90 200.35 884.2)" >0</text>
<text x="245.79" y="886.9" font-size="13" text-anchor="end" transform="rotate(-90 245.79 886.9)" >200</text>
<text x="291.23" y="886.9" font-size="13" text-anchor="end" transform="rotate(-90 291.23 886.9)" >400</text>
<line x1="195.5" y1="677.2" x2="195.5" y2="881.1" stroke="#000" stroke-width="1.4" />
<text x="91.9" y="662" font-size="13.2" text-anchor="start" >Andean</text>
<text x="88.7" y="704.8" font-size="13.2" text-anchor="start" >Sediment</text>
<text x="178.5" y="936.2" font-size="13.3" text-anchor="middle" >Time (days)</text>
<text x="16.2" y="775.6" font-size="13" text-anchor="middle" transform="rotate(-90 16.2 775.6)" >Invertebrates (µgC cm<tspan font-size="10" dy="-6.9">-2</tspan><tspan dy="6.9">)</tspan></text>
<line x1="87.8" y1="867.2" x2="87.8" y2="872" stroke="#5a5a5a" stroke-width="1.4" />
<line x1="83.6" y1="867.2" x2="92" y2="867.2" stroke="#5a5a5a" stroke-width="1.4" />
<line x1="83.6" y1="872" x2="92" y2="872" stroke="#5a5a5a" stroke-width="1.4" />
<line x1="105.2" y1="861.8" x2="105.2" y2="869" stroke="#5a5a5a" stroke-width="1.4" />
<line x1="101" y1="861.8" x2="109.4" y2="861.8" stroke="#5a5a5a" stroke-width="1.4" />
<line x1="101" y1="869" x2="109.4" y2="869" stroke="#5a5a5a" stroke-width="1.4" />
<line x1="115.2" y1="863.7" x2="115.2" y2="868.8" stroke="#5a5a5a" stroke-width="1.4" />
<line x1="111" y1="863.7" x2="119.4" y2="863.7" stroke="#5a5a5a" stroke-width="1.4" />
<line x1="111" y1="868.8" x2="119.4" y2="868.8" stroke="#5a5a5a" stroke-width="1.4" />
<line x1="178" y1="865.5" x2="178" y2="871" stroke="#4a4a4a" stroke-width="1.15" />
<line x1="173.8" y1="865.5" x2="182.2" y2="865.5" stroke="#4a4a4a" stroke-width="1.15" />
<line x1="173.8" y1="871" x2="182.2" y2="871" stroke="#4a4a4a" stroke-width="1.15" />
<line x1="191.2" y1="863" x2="191.2" y2="869" stroke="#5a5a5a" stroke-width="1.4" />
<line x1="187" y1="863" x2="195.4" y2="863" stroke="#5a5a5a" stroke-width="1.4" />
<line x1="187" y1="869" x2="195.4" y2="869" stroke="#5a5a5a" stroke-width="1.4" />
<line x1="197.3" y1="837.7" x2="197.3" y2="864.7" stroke="#5a5a5a" stroke-width="1.4" />
<line x1="193.1" y1="837.7" x2="201.5" y2="837.7" stroke="#5a5a5a" stroke-width="1.4" />
<line x1="193.1" y1="864.7" x2="201.5" y2="864.7" stroke="#5a5a5a" stroke-width="1.4" />
<line x1="201.2" y1="854.3" x2="201.2" y2="860.1" stroke="#5a5a5a" stroke-width="1.4" />
<line x1="197" y1="854.3" x2="205.4" y2="854.3" stroke="#5a5a5a" stroke-width="1.4" />
<line x1="197" y1="860.1" x2="205.4" y2="860.1" stroke="#5a5a5a" stroke-width="1.4" />
<line x1="209.9" y1="823.4" x2="209.9" y2="866.3" stroke="#4a4a4a" stroke-width="1.15" />
<line x1="205.7" y1="823.4" x2="214.1" y2="823.4" stroke="#4a4a4a" stroke-width="1.15" />
<line x1="205.7" y1="866.3" x2="214.1" y2="866.3" stroke="#4a4a4a" stroke-width="1.15" />
<line x1="228" y1="856.2" x2="228" y2="870" stroke="#4a4a4a" stroke-width="1.15" />
<line x1="223.8" y1="856.2" x2="232.2" y2="856.2" stroke="#4a4a4a" stroke-width="1.15" />
<line x1="223.8" y1="870" x2="232.2" y2="870" stroke="#4a4a4a" stroke-width="1.15" />
<line x1="250.4" y1="869.7" x2="250.4" y2="873.9" stroke="#4a4a4a" stroke-width="1.15" />
<line x1="246.2" y1="869.7" x2="254.6" y2="869.7" stroke="#4a4a4a" stroke-width="1.15" />
<line x1="246.2" y1="873.9" x2="254.6" y2="873.9" stroke="#4a4a4a" stroke-width="1.15" />
<line x1="87.8" y1="797.8" x2="87.8" y2="806.7" stroke="#5a5a5a" stroke-width="1.4" />
<line x1="83.6" y1="797.8" x2="92" y2="797.8" stroke="#5a5a5a" stroke-width="1.4" />
<line x1="83.6" y1="806.7" x2="92" y2="806.7" stroke="#5a5a5a" stroke-width="1.4" />
<line x1="115" y1="827.5" x2="115" y2="867.4" stroke="#000" stroke-width="1.0" shape-rendering="crispEdges"/>
<line x1="110.8" y1="827.5" x2="119.2" y2="827.5" stroke="#000" stroke-width="1.0" shape-rendering="crispEdges"/>
<line x1="110.8" y1="867.4" x2="119.2" y2="867.4" stroke="#000" stroke-width="1.0" shape-rendering="crispEdges"/>
<line x1="153.8" y1="865.4" x2="153.8" y2="868.5" stroke="#555" stroke-width="1.2" />
<line x1="149.6" y1="865.4" x2="158" y2="865.4" stroke="#555" stroke-width="1.2" />
<line x1="178" y1="805.6" x2="178" y2="868.4" stroke="#4a4a4a" stroke-width="1.15" />
<line x1="173.8" y1="805.6" x2="182.2" y2="805.6" stroke="#4a4a4a" stroke-width="1.15" />
<line x1="173.8" y1="868.4" x2="182.2" y2="868.4" stroke="#4a4a4a" stroke-width="1.15" />
<line x1="191.2" y1="851" x2="191.2" y2="857" stroke="#000" stroke-width="1.0" shape-rendering="crispEdges"/>
<line x1="187" y1="851" x2="195.4" y2="851" stroke="#000" stroke-width="1.0" shape-rendering="crispEdges"/>
<line x1="201.4" y1="813.6" x2="201.4" y2="870.3" stroke="#4a4a4a" stroke-width="1.15" />
<line x1="197.2" y1="813.6" x2="205.6" y2="813.6" stroke="#4a4a4a" stroke-width="1.15" />
<line x1="197.2" y1="870.3" x2="205.6" y2="870.3" stroke="#4a4a4a" stroke-width="1.15" />
<line x1="209.9" y1="802.8" x2="209.9" y2="872.1" stroke="#4a4a4a" stroke-width="1.15" />
<line x1="205.7" y1="802.8" x2="214.1" y2="802.8" stroke="#4a4a4a" stroke-width="1.15" />
<line x1="205.7" y1="872.1" x2="214.1" y2="872.1" stroke="#4a4a4a" stroke-width="1.15" />
<line x1="228" y1="809.3" x2="228" y2="821.1" stroke="#000" stroke-width="1.0" shape-rendering="crispEdges"/>
<line x1="223.8" y1="809.3" x2="232.2" y2="809.3" stroke="#000" stroke-width="1.0" shape-rendering="crispEdges"/>
<line x1="223.8" y1="821.1" x2="232.2" y2="821.1" stroke="#000" stroke-width="1.0" shape-rendering="crispEdges"/>
<polyline points="87.8,869.6 97.6,872.2 105.2,865.4 115.2,866.2 153.8,872 178,868.2 191.2,866 197.3,851.2 201.2,857.2 209.9,844 228,862.7 234.5,872.8 250.4,871.8" fill="none" stroke="#000" stroke-width="1.5" stroke-linejoin="round"/>
<circle cx="87.8" cy="869.6" r="3.2" fill="#000"/>
<circle cx="97.6" cy="872.2" r="3.2" fill="#000"/>
<circle cx="105.2" cy="865.4" r="3.2" fill="#000"/>
<circle cx="115.2" cy="866.2" r="3.2" fill="#000"/>
<circle cx="153.8" cy="872" r="3.2" fill="#000"/>
<circle cx="178" cy="868.2" r="3.2" fill="#000"/>
<circle cx="191.2" cy="866" r="3.2" fill="#000"/>
<circle cx="197.3" cy="851.2" r="3.2" fill="#000"/>
<circle cx="201.2" cy="857.2" r="3.2" fill="#000"/>
<circle cx="209.9" cy="844" r="3.2" fill="#000"/>
<circle cx="228" cy="862.7" r="3.2" fill="#000"/>
<circle cx="234.5" cy="872.8" r="3.2" fill="#000"/>
<circle cx="250.4" cy="871.8" r="3.2" fill="#000"/>
<polyline points="87.8,801.9 97.6,871.6 105.2,871.3 115,847.5 153.8,868.5 178,837 191.2,857 197.5,869.5 201.4,841.4 209.9,837 228,814.8 234.5,872.6 250.4,871.8" fill="none" stroke="#000" stroke-width="1.9" stroke-linejoin="round" stroke-dasharray="1.9 4.3"/>
<circle cx="87.8" cy="801.9" r="2.7" fill="#fff" stroke="#000" stroke-width="1.3"/>
<circle cx="97.6" cy="871.6" r="2.7" fill="#fff" stroke="#000" stroke-width="1.3"/>
<circle cx="105.2" cy="871.3" r="2.7" fill="#fff" stroke="#000" stroke-width="1.3"/>
<circle cx="115" cy="847.5" r="2.7" fill="#fff" stroke="#000" stroke-width="1.3"/>
<circle cx="153.8" cy="868.5" r="2.7" fill="#fff" stroke="#000" stroke-width="1.3"/>
<circle cx="178" cy="837" r="2.7" fill="#fff" stroke="#000" stroke-width="1.3"/>
<circle cx="191.2" cy="857" r="2.7" fill="#fff" stroke="#000" stroke-width="1.3"/>
<circle cx="197.5" cy="869.5" r="2.7" fill="#fff" stroke="#000" stroke-width="1.3"/>
<circle cx="201.4" cy="841.4" r="2.7" fill="#fff" stroke="#000" stroke-width="1.3"/>
<circle cx="209.9" cy="837" r="2.7" fill="#fff" stroke="#000" stroke-width="1.3"/>
<circle cx="228" cy="814.8" r="2.7" fill="#fff" stroke="#000" stroke-width="1.3"/>
<circle cx="234.5" cy="872.6" r="2.7" fill="#fff" stroke="#000" stroke-width="1.3"/>
<circle cx="250.4" cy="871.8" r="2.7" fill="#fff" stroke="#000" stroke-width="1.3"/>
<rect x="467.5" y="657.2" width="13.9" height="18.7" fill="#808080"/>
<rect x="484.7" y="657.2" width="13.6" height="18.7" fill="#808080"/>
<rect x="502.9" y="657.2" width="29.5" height="18.7" fill="#808080"/>
<line x1="341.7" y1="679.2" x2="341.7" y2="874.3" stroke="#5a5a5a" stroke-width="0.95" />
<line x1="557.1" y1="679.2" x2="557.1" y2="874.3" stroke="#5a5a5a" stroke-width="0.95" />
<line x1="341.2" y1="874.3" x2="557.6" y2="874.3" stroke="#5a5a5a" stroke-width="0.95" />
<line x1="341.2" y1="679.2" x2="557.6" y2="679.2" stroke="#444" stroke-width="0.9" />
<line x1="338.7" y1="874.3" x2="341.7" y2="874.3" stroke="#5a5a5a" stroke-width="0.95" />
<text x="335.4" y="879.15" font-size="13" text-anchor="end" >0</text>
<line x1="338.7" y1="825.52" x2="341.7" y2="825.52" stroke="#5a5a5a" stroke-width="0.95" />
<text x="333" y="830.38" font-size="13" text-anchor="end" >200</text>
<line x1="338.7" y1="776.75" x2="341.7" y2="776.75" stroke="#5a5a5a" stroke-width="0.95" />
<text x="333" y="781.6" font-size="13" text-anchor="end" >400</text>
<line x1="338.7" y1="727.98" x2="341.7" y2="727.98" stroke="#5a5a5a" stroke-width="0.95" />
<text x="333" y="732.83" font-size="13" text-anchor="end" >600</text>
<line x1="338.7" y1="679.2" x2="341.7" y2="679.2" stroke="#5a5a5a" stroke-width="0.95" />
<text x="333" y="684.05" font-size="13" text-anchor="end" >800</text>
<line x1="347.86" y1="874.3" x2="347.86" y2="876.3" stroke="#333" stroke-width="0.8" />
<line x1="356.94" y1="874.3" x2="356.94" y2="876.3" stroke="#333" stroke-width="0.8" />
<line x1="366.03" y1="874.3" x2="366.03" y2="876.3" stroke="#333" stroke-width="0.8" />
<line x1="375.12" y1="874.3" x2="375.12" y2="877.5" stroke="#333" stroke-width="0.8" />
<line x1="384.21" y1="874.3" x2="384.21" y2="876.3" stroke="#333" stroke-width="0.8" />
<line x1="393.3" y1="874.3" x2="393.3" y2="876.3" stroke="#333" stroke-width="0.8" />
<line x1="402.38" y1="874.3" x2="402.38" y2="876.3" stroke="#333" stroke-width="0.8" />
<line x1="411.47" y1="874.3" x2="411.47" y2="876.3" stroke="#333" stroke-width="0.8" />
<line x1="420.56" y1="874.3" x2="420.56" y2="877.5" stroke="#333" stroke-width="0.8" />
<line x1="429.65" y1="874.3" x2="429.65" y2="876.3" stroke="#333" stroke-width="0.8" />
<line x1="438.74" y1="874.3" x2="438.74" y2="876.3" stroke="#333" stroke-width="0.8" />
<line x1="447.82" y1="874.3" x2="447.82" y2="876.3" stroke="#333" stroke-width="0.8" />
<line x1="456.91" y1="874.3" x2="456.91" y2="876.3" stroke="#333" stroke-width="0.8" />
<line x1="466" y1="874.3" x2="466" y2="877.5" stroke="#333" stroke-width="0.8" />
<line x1="475.09" y1="874.3" x2="475.09" y2="876.3" stroke="#333" stroke-width="0.8" />
<line x1="484.18" y1="874.3" x2="484.18" y2="876.3" stroke="#333" stroke-width="0.8" />
<line x1="493.26" y1="874.3" x2="493.26" y2="876.3" stroke="#333" stroke-width="0.8" />
<line x1="502.35" y1="874.3" x2="502.35" y2="876.3" stroke="#333" stroke-width="0.8" />
<line x1="511.44" y1="874.3" x2="511.44" y2="877.5" stroke="#333" stroke-width="0.8" />
<line x1="520.53" y1="874.3" x2="520.53" y2="876.3" stroke="#333" stroke-width="0.8" />
<line x1="529.62" y1="874.3" x2="529.62" y2="876.3" stroke="#333" stroke-width="0.8" />
<line x1="538.7" y1="874.3" x2="538.7" y2="876.3" stroke="#333" stroke-width="0.8" />
<line x1="547.79" y1="874.3" x2="547.79" y2="876.3" stroke="#333" stroke-width="0.8" />
<line x1="556.88" y1="874.3" x2="556.88" y2="877.5" stroke="#333" stroke-width="0.8" />
<text x="379.92" y="887.7" font-size="13" text-anchor="end" transform="rotate(-90 379.92 887.7)" >-400</text>
<text x="425.36" y="887.7" font-size="13" text-anchor="end" transform="rotate(-90 425.36 887.7)" >-200</text>
<text x="470.8" y="884.7" font-size="13" text-anchor="end" transform="rotate(-90 470.8 884.7)" >0</text>
<text x="516.24" y="887.7" font-size="13" text-anchor="end" transform="rotate(-90 516.24 887.7)" >200</text>
<text x="561.68" y="887.7" font-size="13" text-anchor="end" transform="rotate(-90 561.68 887.7)" >400</text>
<line x1="466.5" y1="677.2" x2="466.5" y2="881.1" stroke="#333" stroke-width="1.25" />
<text x="360.1" y="705.6" font-size="13.2" text-anchor="start" >Rocks</text>
<text x="449" y="936" font-size="13.3" text-anchor="middle" >Time (days)</text>
<line x1="357.4" y1="852.2" x2="357.4" y2="861.1" stroke="#000" stroke-width="1.0" shape-rendering="crispEdges"/>
<line x1="353.2" y1="852.2" x2="361.6" y2="852.2" stroke="#000" stroke-width="1.0" shape-rendering="crispEdges"/>
<line x1="353.2" y1="861.1" x2="361.6" y2="861.1" stroke="#000" stroke-width="1.0" shape-rendering="crispEdges"/>
<line x1="367.9" y1="771.9" x2="367.9" y2="816.6" stroke="#333" stroke-width="1.0" shape-rendering="crispEdges"/>
<line x1="363.7" y1="771.9" x2="372.1" y2="771.9" stroke="#333" stroke-width="1.0" shape-rendering="crispEdges"/>
<line x1="363.7" y1="816.6" x2="372.1" y2="816.6" stroke="#333" stroke-width="1.0" shape-rendering="crispEdges"/>
<line x1="375.1" y1="824.1" x2="375.1" y2="855.6" stroke="#000" stroke-width="1.0" shape-rendering="crispEdges"/>
<line x1="370.9" y1="824.1" x2="379.3" y2="824.1" stroke="#000" stroke-width="1.0" shape-rendering="crispEdges"/>
<line x1="370.9" y1="855.6" x2="379.3" y2="855.6" stroke="#000" stroke-width="1.0" shape-rendering="crispEdges"/>
<line x1="385" y1="856.1" x2="385" y2="868.5" stroke="#000" stroke-width="1.0" shape-rendering="crispEdges"/>
<line x1="380.8" y1="856.1" x2="389.2" y2="856.1" stroke="#000" stroke-width="1.0" shape-rendering="crispEdges"/>
<line x1="380.8" y1="868.5" x2="389.2" y2="868.5" stroke="#000" stroke-width="1.0" shape-rendering="crispEdges"/>
<line x1="424" y1="822.3" x2="424" y2="857.9" stroke="#000" stroke-width="1.0" shape-rendering="crispEdges"/>
<line x1="419.8" y1="822.3" x2="428.2" y2="822.3" stroke="#000" stroke-width="1.0" shape-rendering="crispEdges"/>
<line x1="419.8" y1="857.9" x2="428.2" y2="857.9" stroke="#000" stroke-width="1.0" shape-rendering="crispEdges"/>
<line x1="467.3" y1="861.6" x2="467.3" y2="869" stroke="#000" stroke-width="1.0" shape-rendering="crispEdges"/>
<line x1="463.1" y1="861.6" x2="471.5" y2="861.6" stroke="#000" stroke-width="1.0" shape-rendering="crispEdges"/>
<line x1="463.1" y1="869" x2="471.5" y2="869" stroke="#000" stroke-width="1.0" shape-rendering="crispEdges"/>
<line x1="498.3" y1="843.1" x2="498.3" y2="855.9" stroke="#4a4a4a" stroke-width="1.15" />
<line x1="494.1" y1="843.1" x2="502.5" y2="843.1" stroke="#4a4a4a" stroke-width="1.15" />
<line x1="494.1" y1="855.9" x2="502.5" y2="855.9" stroke="#4a4a4a" stroke-width="1.15" />
<line x1="520.8" y1="864.5" x2="520.8" y2="869.5" stroke="#000" stroke-width="1.0" shape-rendering="crispEdges"/>
<line x1="516.6" y1="864.5" x2="525" y2="864.5" stroke="#000" stroke-width="1.0" shape-rendering="crispEdges"/>
<line x1="516.6" y1="869.5" x2="525" y2="869.5" stroke="#000" stroke-width="1.0" shape-rendering="crispEdges"/>
<line x1="367.9" y1="821.7" x2="367.9" y2="861.8" stroke="#333" stroke-width="1.0" shape-rendering="crispEdges"/>
<line x1="363.7" y1="821.7" x2="372.1" y2="821.7" stroke="#333" stroke-width="1.0" shape-rendering="crispEdges"/>
<line x1="363.7" y1="861.8" x2="372.1" y2="861.8" stroke="#333" stroke-width="1.0" shape-rendering="crispEdges"/>
<line x1="461.6" y1="863.6" x2="461.6" y2="868.7" stroke="#000" stroke-width="1.0" shape-rendering="crispEdges"/>
<line x1="457.4" y1="863.6" x2="465.8" y2="863.6" stroke="#000" stroke-width="1.0" shape-rendering="crispEdges"/>
<line x1="457.4" y1="868.7" x2="465.8" y2="868.7" stroke="#000" stroke-width="1.0" shape-rendering="crispEdges"/>
<polyline points="357.4,856.1 367.9,793.3 375.1,838.8 385,862 424,839.6 447.9,867.6 467.3,865.2 471.5,871.6 480,868 498.3,849.5 504.8,872.2 520.8,867" fill="none" stroke="#000" stroke-width="1.5" stroke-linejoin="round"/>
<circle cx="357.4" cy="856.1" r="3.2" fill="#000"/>
<circle cx="367.9" cy="793.3" r="3.2" fill="#000"/>
<circle cx="375.1" cy="838.8" r="3.2" fill="#000"/>
<circle cx="385" cy="862" r="3.2" fill="#000"/>
<circle cx="424" cy="839.6" r="3.2" fill="#000"/>
<circle cx="447.9" cy="867.6" r="3.2" fill="#000"/>
<circle cx="467.3" cy="865.2" r="3.2" fill="#000"/>
<circle cx="471.5" cy="871.6" r="3.2" fill="#000"/>
<circle cx="480" cy="868" r="3.2" fill="#000"/>
<circle cx="498.3" cy="849.5" r="3.2" fill="#000"/>
<circle cx="504.8" cy="872.2" r="3.2" fill="#000"/>
<circle cx="520.8" cy="867" r="3.2" fill="#000"/>
<polyline points="357.4,872.6 367.9,841.5 375.1,872.6 385,873.2 424,872.1 448,873.3 461.6,866.2 471.5,873.8 480,873.3 498.3,873.7 504.8,873.2 520.8,872" fill="none" stroke="#000" stroke-width="1.9" stroke-linejoin="round" stroke-dasharray="1.9 4.3"/>
<circle cx="357.4" cy="872.6" r="2.7" fill="#fff" stroke="#000" stroke-width="1.3"/>
<circle cx="367.9" cy="841.5" r="2.7" fill="#fff" stroke="#000" stroke-width="1.3"/>
<circle cx="375.1" cy="872.6" r="2.7" fill="#fff" stroke="#000" stroke-width="1.3"/>
<circle cx="385" cy="873.2" r="2.7" fill="#fff" stroke="#000" stroke-width="1.3"/>
<circle cx="424" cy="872.1" r="2.7" fill="#fff" stroke="#000" stroke-width="1.3"/>
<circle cx="448" cy="873.3" r="2.7" fill="#fff" stroke="#000" stroke-width="1.3"/>
<circle cx="461.6" cy="866.2" r="2.7" fill="#fff" stroke="#000" stroke-width="1.3"/>
<circle cx="471.5" cy="873.8" r="2.7" fill="#fff" stroke="#000" stroke-width="1.3"/>
<circle cx="480" cy="873.3" r="2.7" fill="#fff" stroke="#000" stroke-width="1.3"/>
<circle cx="498.3" cy="873.7" r="2.7" fill="#fff" stroke="#000" stroke-width="1.3"/>
<circle cx="504.8" cy="873.2" r="2.7" fill="#fff" stroke="#000" stroke-width="1.3"/>
<circle cx="520.8" cy="872" r="2.7" fill="#fff" stroke="#000" stroke-width="1.3"/>
<rect x="332.5" y="44.4" width="153.4" height="59" fill="#fff" stroke="#333" stroke-width="1"/>
<line x1="341.8" y1="63.5" x2="380.3" y2="63.5" stroke="#000" stroke-width="1.5" />
<circle cx="360.6" cy="63.5" r="3.2" fill="#000"/>
<line x1="341.7" y1="84" x2="356" y2="84" stroke="#000" stroke-width="1.9" stroke-dasharray="1.9 3.0"/>
<line x1="367.3" y1="84" x2="380.3" y2="84" stroke="#000" stroke-width="1.9" stroke-dasharray="1.9 2.95"/>
<circle cx="360.6" cy="84" r="2.7" fill="#fff" stroke="#000" stroke-width="1.3"/>
<text x="392.8" y="68.7" font-size="13.3" text-anchor="start" >CONTROL</text>
<text x="393.6" y="88.8" font-size="13.3" text-anchor="start" >ENRICHED</text>
</svg>
</body></html>
